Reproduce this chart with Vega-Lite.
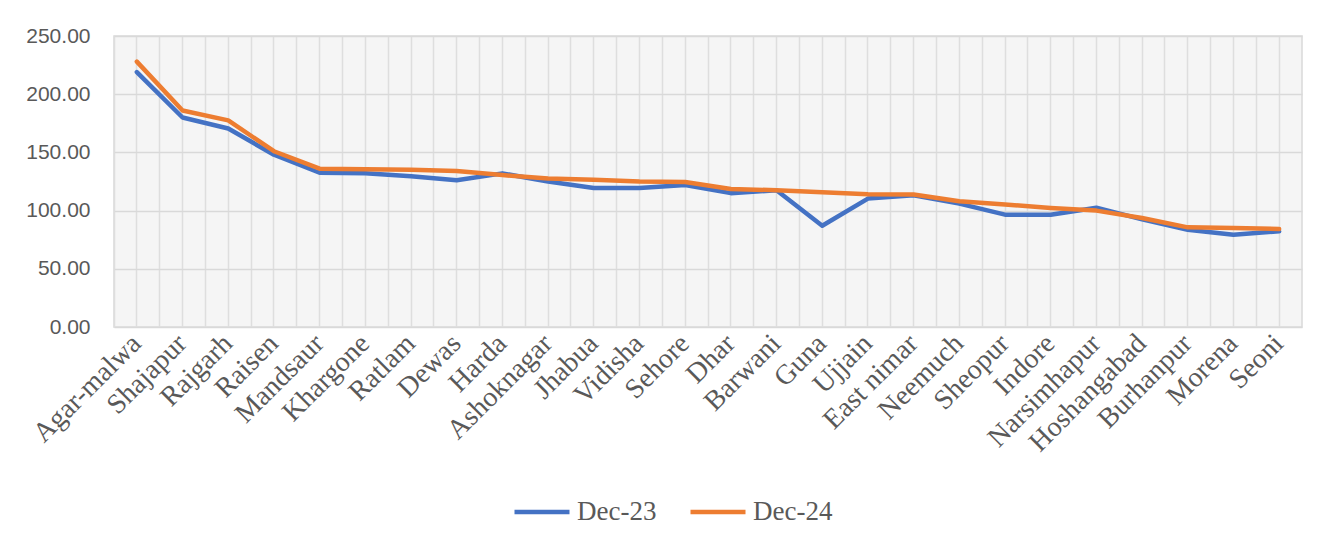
{
  "$schema": "https://vega.github.io/schema/vega-lite/v6.json",
  "width": 1188,
  "height": 291,
  "autosize": {"type": "none"},
  "padding": {"left": 114, "top": 36, "right": 36, "bottom": 216},
  "background": "white",
  "config": {
    "view": {"stroke": "#d9d9d9", "strokeWidth": 1.5, "fill": "#f5f5f5"}
  },
  "data": {
    "values": [
      {"district": "Agar-malwa", "series": "Dec-23", "value": 219},
      {"district": "Shajapur", "series": "Dec-23", "value": 180},
      {"district": "Rajgarh", "series": "Dec-23", "value": 170.5},
      {"district": "Raisen", "series": "Dec-23", "value": 148},
      {"district": "Mandsaur", "series": "Dec-23", "value": 132.5},
      {"district": "Khargone", "series": "Dec-23", "value": 132},
      {"district": "Ratlam", "series": "Dec-23", "value": 129.5},
      {"district": "Dewas", "series": "Dec-23", "value": 126},
      {"district": "Harda", "series": "Dec-23", "value": 132},
      {"district": "Ashoknagar", "series": "Dec-23", "value": 125},
      {"district": "Jhabua", "series": "Dec-23", "value": 119.5},
      {"district": "Vidisha", "series": "Dec-23", "value": 119.5},
      {"district": "Sehore", "series": "Dec-23", "value": 122},
      {"district": "Dhar", "series": "Dec-23", "value": 115},
      {"district": "Barwani", "series": "Dec-23", "value": 117.5},
      {"district": "Guna", "series": "Dec-23", "value": 87},
      {"district": "Ujjain", "series": "Dec-23", "value": 110.3},
      {"district": "East nimar", "series": "Dec-23", "value": 113.2},
      {"district": "Neemuch", "series": "Dec-23", "value": 106},
      {"district": "Sheopur", "series": "Dec-23", "value": 96.5},
      {"district": "Indore", "series": "Dec-23", "value": 96.5},
      {"district": "Narsimhapur", "series": "Dec-23", "value": 102.5},
      {"district": "Hoshangabad", "series": "Dec-23", "value": 92.5},
      {"district": "Burhanpur", "series": "Dec-23", "value": 83.6},
      {"district": "Morena", "series": "Dec-23", "value": 79.3},
      {"district": "Seoni", "series": "Dec-23", "value": 82.2},
      {"district": "Agar-malwa", "series": "Dec-24", "value": 228},
      {"district": "Shajapur", "series": "Dec-24", "value": 186},
      {"district": "Rajgarh", "series": "Dec-24", "value": 177.5},
      {"district": "Raisen", "series": "Dec-24", "value": 151},
      {"district": "Mandsaur", "series": "Dec-24", "value": 136},
      {"district": "Khargone", "series": "Dec-24", "value": 135.5},
      {"district": "Ratlam", "series": "Dec-24", "value": 135},
      {"district": "Dewas", "series": "Dec-24", "value": 134},
      {"district": "Harda", "series": "Dec-24", "value": 130.5},
      {"district": "Ashoknagar", "series": "Dec-24", "value": 127.5},
      {"district": "Jhabua", "series": "Dec-24", "value": 126.5},
      {"district": "Vidisha", "series": "Dec-24", "value": 125},
      {"district": "Sehore", "series": "Dec-24", "value": 124.5},
      {"district": "Dhar", "series": "Dec-24", "value": 118.5},
      {"district": "Barwani", "series": "Dec-24", "value": 117.5},
      {"district": "Guna", "series": "Dec-24", "value": 115.8},
      {"district": "Ujjain", "series": "Dec-24", "value": 114},
      {"district": "East nimar", "series": "Dec-24", "value": 113.8},
      {"district": "Neemuch", "series": "Dec-24", "value": 108},
      {"district": "Sheopur", "series": "Dec-24", "value": 105.2},
      {"district": "Indore", "series": "Dec-24", "value": 102.3},
      {"district": "Narsimhapur", "series": "Dec-24", "value": 100},
      {"district": "Hoshangabad", "series": "Dec-24", "value": 93.7},
      {"district": "Burhanpur", "series": "Dec-24", "value": 85.6},
      {"district": "Morena", "series": "Dec-24", "value": 85},
      {"district": "Seoni", "series": "Dec-24", "value": 84.2}
    ]
  },
  "layer": [
    {
      "mark": {"type": "line", "opacity": 0},
      "encoding": {
        "x": {
          "field": "district", "type": "nominal", "sort": null,
          "scale": {"type": "band", "paddingInner": 0, "paddingOuter": 0},
          "axis": {"orient": "bottom", "bandPosition": 0, "labels": false, "ticks": false, "domain": false, "title": null,
                   "grid": true, "gridColor": "#dedede", "gridWidth": 1.5}
        },
        "y": {
          "field": "value", "type": "quantitative",
          "scale": {"domain": [0, 250]},
          "axis": {
            "values": [0, 50, 100, 150, 200, 250], "format": ".2f", "title": null,
            "domain": false, "ticks": false, "labelPadding": 24,
            "labelFont": "Liberation Sans", "labelFontSize": 21, "labelColor": "#595959",
            "grid": true, "gridColor": "#d9d9d9", "gridWidth": 1.5
          }
        }
      }
    },
    {
      "mark": {"type": "line", "strokeWidth": 4.5, "strokeCap": "round", "strokeJoin": "round"},
      "encoding": {
        "x": {
          "field": "district", "type": "nominal", "sort": null,
          "scale": {"type": "band", "paddingInner": 0, "paddingOuter": 0},
          "axis": {
            "orient": "bottom", "bandPosition": 0.5, "title": null, "domain": false, "ticks": false,
            "grid": true, "gridColor": "#dedede", "gridWidth": 1.5,
            "labelAngle": -45, "labelAlign": "right", "labelBaseline": "middle",
            "labelPadding": 12, "labelFont": "Liberation Serif", "labelFontSize": 28,
            "labelColor": "#595959", "labelOverlap": false, "labelBound": false, "labelLimit": 0
          }
        },
        "y": {
          "field": "value", "type": "quantitative",
          "scale": {"domain": [0, 250]},
          "axis": {
            "values": [0, 50, 100, 150, 200, 250], "format": ".2f", "title": null,
            "domain": false, "ticks": false, "labelPadding": 24,
            "labelFont": "Liberation Sans", "labelFontSize": 21, "labelColor": "#595959",
            "grid": true, "gridColor": "#d9d9d9", "gridWidth": 1.5
          }
        },
        "color": {
          "field": "series", "type": "nominal",
          "scale": {"domain": ["Dec-23", "Dec-24"], "range": ["#4472C4", "#ED7D31"]},
          "legend": {
            "title": null, "orient": "none", "direction": "horizontal",
            "legendX": 398, "legendY": 446, "padding": 0,
            "symbolType": "stroke", "symbolSize": 3025, "symbolStrokeWidth": 4.5,
            "labelFont": "Liberation Serif", "labelFontSize": 27, "labelColor": "#595959",
            "labelOffset": 5, "columnPadding": 24
          }
        }
      }
    }
  ],
  "resolve": {"axis": {"x": "independent"}}
}
